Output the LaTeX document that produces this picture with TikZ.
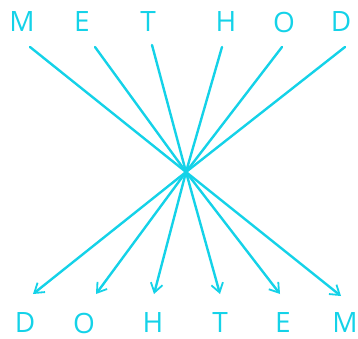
\documentclass[tikz,border=0pt]{standalone}
\usepackage{fontspec}
\setmainfont{Open Sans}
\usetikzlibrary{arrows.meta}
\definecolor{cy}{HTML}{14D2E8}
\begin{document}
\begin{tikzpicture}[x=1pt,y=-1pt,
  ltr/.style={text=cy,font=\fontsize{28}{28}\selectfont,inner sep=0pt,anchor=center},
  ray/.style={draw=cy,line width=2.4pt},
  arr/.style={ray,-{Straight Barb[length=9pt,width=12pt,line width=1.8pt]}}]
\useasboundingbox (0,0) rectangle (358,339);
\coordinate (c) at (186,172);
% top letters
\node[ltr] (tM) at (22,22) {M};
\node[ltr] (tE) at (82,22) {E};
\node[ltr] (tT) at (148,22) {T};
\node[ltr] (tH) at (226,22) {H};
\node[ltr] (tO) at (284,22) {O};
\node[ltr] (tD) at (341,22) {D};
% line starts
\coordinate (sM) at (30,47);
\coordinate (sE) at (95,47);
\coordinate (sT) at (152,45);
\coordinate (sH) at (222,47);
\coordinate (sO) at (282,47);
\coordinate (sD) at (345,47);
\foreach \s in {sM,sE,sT,sH,sO,sD} \draw[ray,line cap=round] (\s) -- (c);
% arrow ends
\coordinate (eD) at (33,294);
\coordinate (eO) at (96,294);
\coordinate (eH) at (154,294);
\coordinate (eT) at (220,294);
\coordinate (eE) at (280,294);
\coordinate (eM) at (341,296);
\foreach \e in {eD,eO,eH,eT,eE,eM} \draw[arr] (c) -- (\e);
% bottom letters
\node[ltr] (bD) at (25,323) {D};
\node[ltr] (bO) at (84,323) {O};
\node[ltr] (bH) at (153,323) {H};
\node[ltr] (bT) at (220,323) {T};
\node[ltr] (bE) at (283,323) {E};
\node[ltr] (bM) at (345,323) {M};
\end{tikzpicture}
\end{document}
